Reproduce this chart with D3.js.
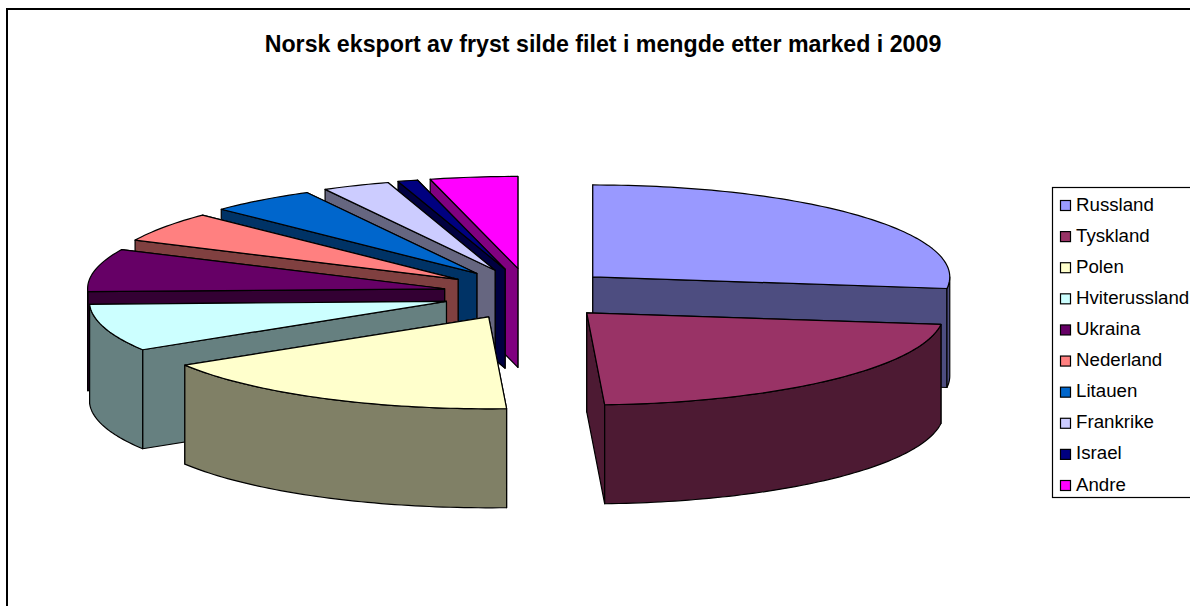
<!DOCTYPE html>
<html>
<head>
<meta charset="utf-8">
<script src="https://cdn.jsdelivr.net/npm/d3@7"></script>
<style>html,body{margin:0;padding:0;background:#fff}svg{display:block}text{font-family:"Liberation Sans",Arial,sans-serif;fill:#000}</style>
</head>
<body>
<div id="chart"></div>
<script>
const titleText = "Norsk eksport av fryst silde filet i mengde etter marked i 2009";
const categories = ["Russland","Tyskland","Polen","Hviterussland","Ukraina","Nederland","Litauen","Frankrike","Israel","Andre"];
const shares = [27, 22.2, 17, 8.3, 7.5, 5.3, 4.8, 3.05, 0.9, 3.95];
const topColors = ["#9999FF","#993366","#FFFFCC","#CCFFFF","#660066","#FF8080","#0066CC","#CCCCFF","#000080","#FF00FF"];

const W = 1190, H = 606;
const explodeX = 0.24, explodeY = 0.28, depth = 99;
const sx = d3.scaleLinear().domain([-1,1]).range([528.5-357, 528.5+357]);
const sy = d3.scaleLinear().domain([-1,1]).range([294+92, 294-92]);

const svg = d3.select("#chart").append("svg").attr("width",W).attr("height",H);
svg.append("rect").attr("width",W).attr("height",H).attr("fill","#fff");
svg.append("path").attr("d",`M7,${H}V9H${W}`).attr("fill","none").attr("stroke","#000").attr("stroke-width",2);

svg.append("text").attr("x",603).attr("y",52).attr("text-anchor","middle")
  .attr("font-size",23.2).attr("font-weight","bold").text(titleText);

const arcs = d3.pie().value(d=>d).sort(null)(shares).map((a,i)=>{
  const mid = (a.startAngle+a.endAngle)/2;
  return {...a, i, mid, ox: explodeX*Math.sin(mid), oy: explodeY*Math.cos(mid)};
});
const line = d3.line();
const pt = (a,ang,r,dz)=>[sx(a.ox + r*Math.sin(ang)), sy(a.oy + r*Math.cos(ang)) + dz];
const samples = (a0,a1)=>{const n=Math.max(2,Math.ceil((a1-a0)/0.02));return d3.range(n+1).map(k=>a0+(a1-a0)*k/n);};
const side = c=>{const q=d3.rgb(c);return d3.rgb(q.r*.5,q.g*.5,q.b*.5).formatHex();};

const order = arcs.slice().sort((p,q)=>Math.cos(q.mid)-Math.cos(p.mid));
const HALF = Math.PI/2;
const pie = svg.append("g").attr("stroke","#000").attr("stroke-width",1.2).attr("stroke-linejoin","round");
order.forEach(a=>{
  const g = pie.append("g");
  const wallFill = side(topColors[a.i]);
  [a.startAngle,a.endAngle].sort((u,v)=>Math.cos(v)-Math.cos(u)).forEach(ang=>{
    g.append("path").attr("fill",wallFill)
      .attr("d",line([pt(a,0,0,0),pt(a,ang,1,0),pt(a,ang,1,depth),pt(a,0,0,depth)])+"Z");
  });
  const r0=Math.max(a.startAngle,HALF), r1=Math.min(a.endAngle,3*HALF);
  if(r1>r0){
    const ss=samples(r0,r1);
    g.append("path").attr("fill",wallFill)
      .attr("d",line([...ss.map(t=>pt(a,t,1,0)),...ss.slice().reverse().map(t=>pt(a,t,1,depth))])+"Z");
  }
  const ts=samples(a.startAngle,a.endAngle);
  g.append("path").attr("fill",topColors[a.i])
    .attr("d",line([pt(a,0,0,0),...ts.map(t=>pt(a,t,1,0))])+"Z");
});

const legend = svg.append("g");
legend.append("rect").attr("x",1052.5).attr("y",187.5).attr("width",150).attr("height",310)
  .attr("fill","#fff").attr("stroke","#000").attr("stroke-width",1.2);
const ly = d3.scalePoint().domain(categories).range([204.5,484.5]);
categories.forEach((c,i)=>{
  legend.append("rect").attr("x",1060.5).attr("y",ly(c)-4).attr("width",10).attr("height",10)
    .attr("fill",topColors[i]).attr("stroke","#000").attr("stroke-width",1.2);
  legend.append("text").attr("x",1076).attr("y",ly(c)+6).attr("font-size",18.7).text(c);
});
</script>
</body>
</html>
